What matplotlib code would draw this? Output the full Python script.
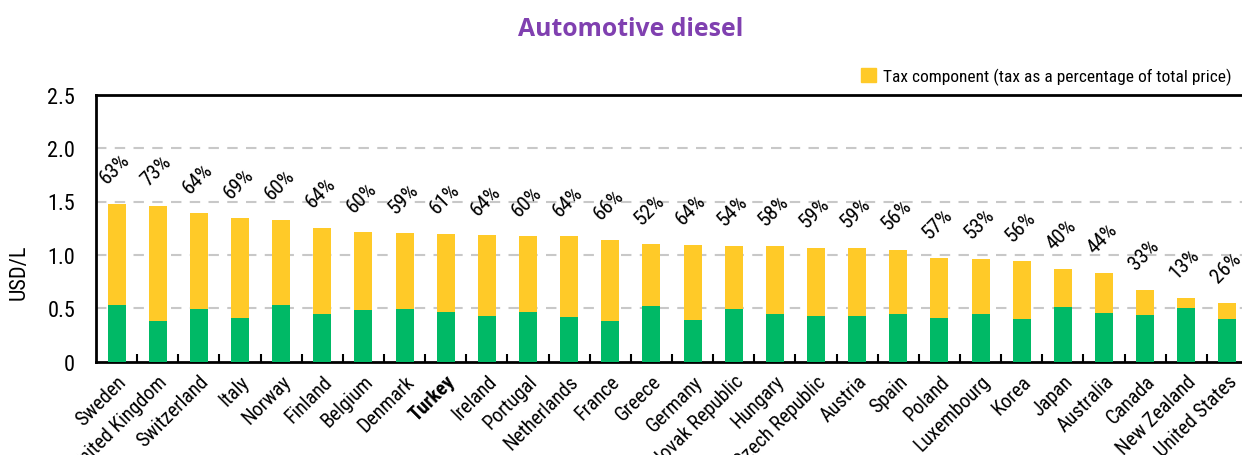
import matplotlib
matplotlib.use("Agg")
import matplotlib.pyplot as plt
from matplotlib.patches import Patch
from matplotlib.ticker import FixedLocator
import numpy as np

countries = ["Sweden", "United Kingdom", "Switzerland", "Italy", "Norway", "Finland",
             "Belgium", "Denmark", "Turkey", "Ireland", "Portugal", "Netherlands",
             "France", "Greece", "Germany", "Slovak Republic", "Hungary",
             "Czech Republic", "Austria", "Spain", "Poland", "Luxembourg", "Korea",
             "Japan", "Australia", "Canada", "New Zealand", "United States"]
total_price = [1.477, 1.461, 1.389, 1.345, 1.330, 1.252, 1.214, 1.205, 1.196, 1.183,
               1.177, 1.174, 1.142, 1.099, 1.093, 1.086, 1.086, 1.067, 1.065, 1.046,
               0.968, 0.965, 0.940, 0.865, 0.828, 0.674, 0.596, 0.552]
pre_tax = [0.534, 0.381, 0.493, 0.412, 0.528, 0.444, 0.481, 0.493, 0.462, 0.425,
           0.465, 0.416, 0.378, 0.519, 0.387, 0.490, 0.450, 0.425, 0.425, 0.447,
           0.409, 0.447, 0.403, 0.512, 0.456, 0.440, 0.506, 0.400]
tax_pct_labels = ["63%", "73%", "64%", "69%", "60%", "64%", "60%", "59%", "61%", "64%",
                  "60%", "64%", "66%", "52%", "64%", "54%", "58%", "59%", "59%", "56%",
                  "57%", "53%", "56%", "40%", "44%", "33%", "13%", "26%"]
yticks = [0, 0.5, 1.0, 1.5, 2.0, 2.5]
ytick_labels = ["0", "0.5", "1.0", "1.5", "2.0", "2.5"]
highlight = "Turkey"

FONT = ["Roboto Condensed", "Open Sans Condensed", "Liberation Sans Narrow", "DejaVu Sans"]
STRETCH = "condensed"
GREEN = "#00B966"
YELLOW = "#FFCA28"

fig = plt.figure(figsize=(12.42, 4.56), dpi=100)
W, H = 1242, 456
ax = fig.add_axes([96 / W, (H - 362.7) / H, (1248 - 96) / W, (362.7 - 95.7) / H])

x = np.arange(len(countries))
tax = np.array(total_price) - np.array(pre_tax)
ax.bar(x, pre_tax, width=0.44, color=GREEN, zorder=3)
ax.bar(x, tax, bottom=pre_tax, width=0.44, color=YELLOW, zorder=3)

for xi, tp, lab in zip(x, total_price, tax_pct_labels):
    ax.annotate(lab, (xi, tp), xytext=(-1, 12), textcoords="offset points",
                ha="center", va="bottom", rotation=45, fontsize=15, family=FONT,
                fontstretch=STRETCH)

ax.set_xlim(-0.5, len(countries) - 0.5)
ax.set_ylim(0, 2.5)
ax.set_yticks(yticks)
ax.set_yticklabels(ytick_labels, fontsize=16, family=FONT, fontstretch=STRETCH)
for y in yticks[1:-1]:
    ax.axhline(y, color="#C8C8C8", lw=1.5, ls=(0, (5, 4)), zorder=1)

ax.set_xticks(x)
ax.set_xticklabels(countries, rotation=45, ha="right", rotation_mode="anchor",
                   fontsize=14.5, family=FONT, fontstretch=STRETCH)
for t in ax.get_xticklabels():
    if t.get_text() == highlight:
        t.set_fontweight("bold")
ax.xaxis.set_minor_locator(FixedLocator(np.arange(0.5, len(countries) - 1, 1.0)))
ax.tick_params(axis="x", which="major", length=0, pad=7)
ax.tick_params(axis="x", which="minor", direction="in", length=6, width=1.5, color="black")
ax.tick_params(axis="y", length=0, pad=15)

for s in ["left", "bottom", "top"]:
    ax.spines[s].set_linewidth(2)
    ax.spines[s].set_color("black")
ax.spines["right"].set_visible(False)

ax.set_ylabel("USD/L", fontsize=16, family=FONT, fontstretch=STRETCH)
ax.yaxis.set_label_coords(-0.058, 0.34)

fig.text(0.508, 1 - 30 / H, "Automotive diesel", ha="center", va="center",
         fontsize=17.8, fontweight="bold", color="#8040B0", family=["Open Sans", "DejaVu Sans"])

fig.legend(handles=[Patch(color=YELLOW, label="Tax component (tax as a percentage of total price)")],
           loc="center right", bbox_to_anchor=(0.997, 1 - 77 / H), frameon=False,
           handlelength=0.85, handleheight=0.85, handletextpad=0.4, borderaxespad=0,
           prop={"family": FONT, "size": 12.5, "stretch": STRETCH})

fig.savefig("out.png", dpi=100)
